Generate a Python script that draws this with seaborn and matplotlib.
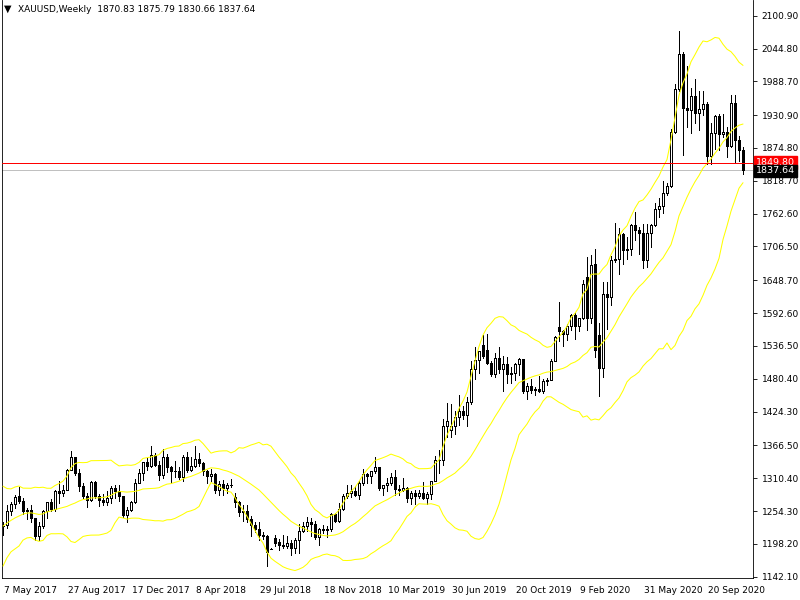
import numpy as np
import pandas as pd
import matplotlib
matplotlib.use("Agg")
import matplotlib.pyplot as plt
import matplotlib.transforms as mtransforms
import seaborn as sns

# ---------------- data (weekly XAUUSD, week of 7 May 2017 .. week of 22 Nov 2020) -------------
header_text = "XAUUSD,Weekly  1870.83 1875.79 1830.66 1837.64"

opens = [1228, 1230, 1255, 1267, 1280, 1271, 1254, 1256, 1242, 1212, 1228, 1255, 1269, 1258, 1289, 1285,
         1291, 1325, 1346, 1320, 1297, 1280, 1274, 1304, 1280, 1273, 1270, 1276, 1294, 1288, 1280, 1248,
         1256, 1269, 1303, 1320, 1338, 1332, 1350, 1333, 1316, 1347, 1329, 1322, 1323, 1313, 1347, 1325,
         1332, 1344, 1336, 1322, 1314, 1318, 1291, 1301, 1294, 1298, 1278, 1269, 1252, 1255, 1241, 1231,
         1223, 1214, 1212, 1190, 1208, 1201, 1197, 1194, 1199, 1191, 1204, 1221, 1228, 1236, 1232, 1210,
         1223, 1222, 1223, 1249, 1238, 1257, 1280, 1286, 1289, 1282, 1303, 1318, 1314, 1322, 1329, 1294,
         1298, 1302, 1313, 1292, 1291, 1294, 1276, 1286, 1280, 1285, 1277, 1284, 1305, 1341, 1342, 1400,
         1392, 1400, 1415, 1426, 1419, 1440, 1497, 1513, 1538, 1530, 1507, 1489, 1516, 1497, 1505, 1489,
         1490, 1505, 1514, 1460, 1468, 1462, 1463, 1460, 1476, 1479, 1511, 1569, 1562, 1557, 1571, 1589,
         1570, 1584, 1655, 1585, 1676, 1555, 1498, 1626, 1620, 1683, 1685, 1727, 1700, 1703, 1743, 1735,
         1730, 1684, 1730, 1743, 1771, 1775, 1798, 1810, 1902, 1975, 2035, 1944, 1940, 1964, 1934, 1941,
         1950, 1861, 1900, 1930, 1899, 1902, 1879, 1951, 1889, 1870.83]
highs = [1236, 1264, 1270, 1281, 1296, 1277, 1260, 1264, 1243, 1235, 1256, 1270, 1275, 1291, 1306, 1298,
         1326, 1357, 1347, 1326, 1302, 1285, 1306, 1306, 1284, 1283, 1289, 1297, 1299, 1299, 1280, 1262,
         1272, 1309, 1326, 1338, 1345, 1366, 1353, 1339, 1361, 1352, 1332, 1340, 1329, 1350, 1356, 1347,
         1366, 1354, 1338, 1324, 1326, 1319, 1306, 1308, 1303, 1309, 1285, 1272, 1265, 1265, 1245, 1236,
         1236, 1219, 1214, 1190.5, 1214, 1206, 1213, 1211, 1205, 1209, 1233, 1235, 1244, 1243, 1238, 1225,
         1230, 1229, 1251, 1251, 1268, 1284, 1298, 1298, 1297, 1305, 1326, 1319, 1318, 1346, 1330, 1299,
         1311, 1320, 1324, 1298, 1310, 1296, 1288, 1290, 1290, 1304, 1287, 1306, 1348, 1358, 1411, 1439,
         1437, 1426, 1453, 1434, 1449, 1510, 1535, 1528, 1555, 1557, 1510, 1525, 1535, 1519, 1517, 1500,
         1507, 1516, 1515, 1474, 1480, 1466, 1485, 1480, 1481, 1514, 1553, 1611, 1563, 1574, 1591, 1592,
         1584, 1649, 1689, 1692, 1703, 1575, 1645, 1645, 1690, 1747, 1738, 1730, 1723, 1745, 1765, 1740,
         1745, 1745, 1745, 1780, 1789, 1818, 1815, 1908, 1984, 2075, 2039, 2015, 1977, 1992, 1973, 1973,
         1953, 1917, 1931, 1933, 1933, 1911, 1965, 1965, 1896, 1875.79]
lows = [1214, 1226, 1247, 1259, 1268, 1250, 1241, 1236, 1205, 1204, 1225, 1243, 1254, 1255, 1268, 1280,
        1291, 1324, 1316, 1288, 1277, 1261, 1272, 1277, 1263, 1264, 1265, 1268, 1276, 1271, 1244, 1236,
        1254, 1268, 1302, 1307, 1325, 1329, 1331, 1307, 1311, 1321, 1303, 1313, 1309, 1306, 1321, 1323,
        1330, 1331, 1316, 1302, 1305, 1285, 1282, 1281, 1286, 1296, 1261, 1245, 1238, 1236, 1211, 1219,
        1204, 1206, 1160, 1189.5, 1195, 1187, 1192, 1192, 1180, 1182, 1182, 1218, 1220, 1211, 1207, 1196,
        1216, 1210, 1221, 1236, 1235, 1256, 1277, 1279, 1280, 1275, 1298, 1303, 1302, 1320, 1291, 1281,
        1289, 1299, 1281, 1281, 1288, 1270, 1267, 1266, 1277, 1275, 1267, 1275, 1305, 1320, 1333, 1381,
        1381, 1386, 1402, 1412, 1400, 1437, 1480, 1491, 1516, 1505, 1485, 1484, 1490, 1459, 1474, 1474,
        1479, 1487, 1456, 1445, 1456, 1452, 1457, 1456, 1470, 1478, 1510, 1545, 1536, 1546, 1563, 1548,
        1562, 1582, 1563, 1576, 1517, 1451, 1484, 1566, 1606, 1680, 1660, 1676, 1685, 1692, 1717, 1693,
        1670, 1671, 1705, 1742, 1757, 1763, 1795, 1808, 1900, 1973, 1863, 1911, 1901, 1917, 1906, 1931,
        1848, 1848, 1873, 1872, 1894, 1860, 1877, 1850, 1853, 1830.66]
closes = [1229, 1255, 1267, 1279, 1271, 1254, 1256, 1242, 1212, 1228, 1255, 1269, 1258, 1289, 1285, 1291,
          1325, 1346, 1320, 1297, 1280, 1274, 1304, 1280, 1273, 1270, 1276, 1294, 1288, 1280, 1248, 1256,
          1269, 1303, 1320, 1338, 1332, 1350, 1333, 1316, 1347, 1329, 1322, 1323, 1313, 1347, 1325, 1332,
          1344, 1336, 1322, 1314, 1318, 1291, 1301, 1294, 1298, 1299, 1269, 1252, 1255, 1241, 1231, 1223,
          1214, 1212, 1184, 1190, 1200, 1197, 1194, 1200, 1191, 1204, 1221, 1228, 1236, 1232, 1210, 1223,
          1222, 1223, 1249, 1238, 1257, 1280, 1286, 1289, 1282, 1303, 1318, 1314, 1322, 1329, 1294, 1298,
          1302, 1313, 1292, 1291, 1294, 1276, 1286, 1280, 1285, 1277, 1284, 1305, 1341, 1342, 1400, 1409,
          1400, 1415, 1426, 1419, 1440, 1497, 1513, 1527, 1520, 1507, 1489, 1516, 1497, 1505, 1489, 1490,
          1505, 1514, 1460, 1468, 1462, 1463, 1460, 1476, 1479, 1511, 1552, 1562, 1557, 1571, 1589, 1570,
          1584, 1643, 1585, 1674, 1530, 1498, 1626, 1620, 1683, 1685, 1727, 1700, 1703, 1743, 1735, 1730,
          1684, 1730, 1743, 1771, 1775, 1798, 1810, 1902, 1975, 2035, 1944, 1940, 1964, 1934, 1941, 1950,
          1861, 1900, 1930, 1899, 1902, 1879, 1951, 1889, 1871, 1837.64]
# the 19 weekly closes before the first visible bar (feed the 20-period Bollinger Bands)
pre_closes = [1151, 1173, 1196, 1205, 1190, 1220, 1234, 1238, 1257, 1234, 1201, 1229, 1243, 1249,
              1254, 1287, 1284, 1268, 1228]

date_labels = ["7 May 2017", "27 Aug 2017", "17 Dec 2017", "8 Apr 2018", "29 Jul 2018",
               "18 Nov 2018", "10 Mar 2019", "30 Jun 2019", "20 Oct 2019", "9 Feb 2020",
               "31 May 2020", "20 Sep 2020"]
price_ticks = [2100.90, 2044.80, 1988.70, 1930.90, 1874.80, 1818.70, 1762.60, 1706.50, 1648.70,
               1592.60, 1536.50, 1480.40, 1424.30, 1366.50, 1310.40, 1254.30, 1198.20, 1142.10]
hline_price = 1849.80
bid_price = 1837.64

# ---------------- figure -------------
sns.set_style("white")
plt.rcParams['font.family'] = ['DejaVu Sans']
FS = 6.5

W, H = 800, 600
fig = plt.figure(figsize=(8, 6), dpi=100)
fig.patch.set_facecolor("white")
ax = fig.add_axes([1.5 / W, 22 / H, 751 / W, 578 / H])
ax.set_facecolor("white")

n = len(closes)
idx = np.arange(n)
o = np.array(opens, float)
h = np.array(highs, float)
l = np.array(lows, float)
c = np.array(closes, float)

# Bollinger bands (20, 2) on closes
allc = pd.Series(pre_closes + closes, dtype=float)
mid = allc.rolling(20).mean().values[len(pre_closes):]
sd = allc.rolling(20).std(ddof=0).values[len(pre_closes):]
bands = pd.DataFrame({"i": idx, "upper": mid + 2 * sd, "middle": mid, "lower": mid - 2 * sd})
bands_long = bands.melt(id_vars="i", var_name="band", value_name="price")

LW = 0.5
# candles
ax.vlines(idx, l, h, colors="black", linewidth=LW, antialiased=False, zorder=2)
up = c >= o
ax.bar(idx, np.abs(c - o), bottom=np.minimum(o, c), width=0.5,
       color=np.where(up, "white", "black"), edgecolor="black", linewidth=LW,
       antialiased=False, zorder=3)

sns.lineplot(data=bands_long, x="i", y="price", units="band", estimator=None,
             color="#FFFF00", linewidth=0.75, ax=ax, legend=False, zorder=4)

ax.axhline(hline_price, color="#FF0000", linewidth=0.72, zorder=5, snap=True)
ax.axhline(bid_price, color="#C0C0C0", linewidth=0.72, zorder=1, snap=True)

# axes limits in price / bar units
px_per_bar = 4.0
price_per_px = (price_ticks[0] - price_ticks[-1]) / (577 - 16)
ax.set_xlim((1.5 - 3) / px_per_bar, (752.5 - 3) / px_per_bar)
ax.set_ylim(price_ticks[-1] - 1.3 * price_per_px, price_ticks[0] + 15.7 * price_per_px)

# y axis on the right
ax.yaxis.tick_right()
ax.set_yticks(price_ticks)
ax.set_yticklabels([f"{v:.2f}" for v in price_ticks])
ax.tick_params(axis="y", direction="out", length=3, width=0.6, pad=3.5, labelsize=FS, colors="black")
ax.set_ylabel("")
ax.set_xlabel("")

# x axis dates
ax.set_xticks(np.arange(0, 16 * len(date_labels), 16))
ax.set_xticklabels(date_labels, ha="left")
ax.tick_params(axis="x", direction="out", length=4, width=0.6, pad=2, labelsize=FS, colors="black")
offset = mtransforms.ScaledTranslation(1.5 / 100, 0, fig.dpi_scale_trans)
for lab in ax.get_xticklabels():
    lab.set_transform(lab.get_transform() + offset)

for side in ["left", "bottom", "right"]:
    ax.spines[side].set_visible(True)
    ax.spines[side].set_color("black")
    ax.spines[side].set_linewidth(0.6)
ax.spines["top"].set_visible(False)
ax.grid(False)

# price labels for red line and bid line
tr = mtransforms.blended_transform_factory(ax.transAxes, ax.transData)
ax.text(1.0045, hline_price, f"{hline_price:.2f}", transform=tr, color="white", fontsize=FS + 0.3,
        va="center", ha="left", clip_on=False, zorder=6,
        bbox=dict(boxstyle="square,pad=0.2", fc="#FF0000", ec="#FF0000"))
ax.text(1.0045, bid_price - 2.0, f"{bid_price:.2f}", transform=tr, color="white", fontsize=FS + 0.3,
        va="center", ha="left", clip_on=False, zorder=7,
        bbox=dict(boxstyle="square,pad=0.2", fc="black", ec="black"))

# header
fig.text(4 / W, 1 - 9 / H, "\u25BC", fontsize=7, va="center", ha="left", color="black")
fig.text(18 / W, 1 - 9 / H, header_text, fontsize=FS, va="center", ha="left", color="black")

fig.savefig("out.png", dpi=100, facecolor="white")
